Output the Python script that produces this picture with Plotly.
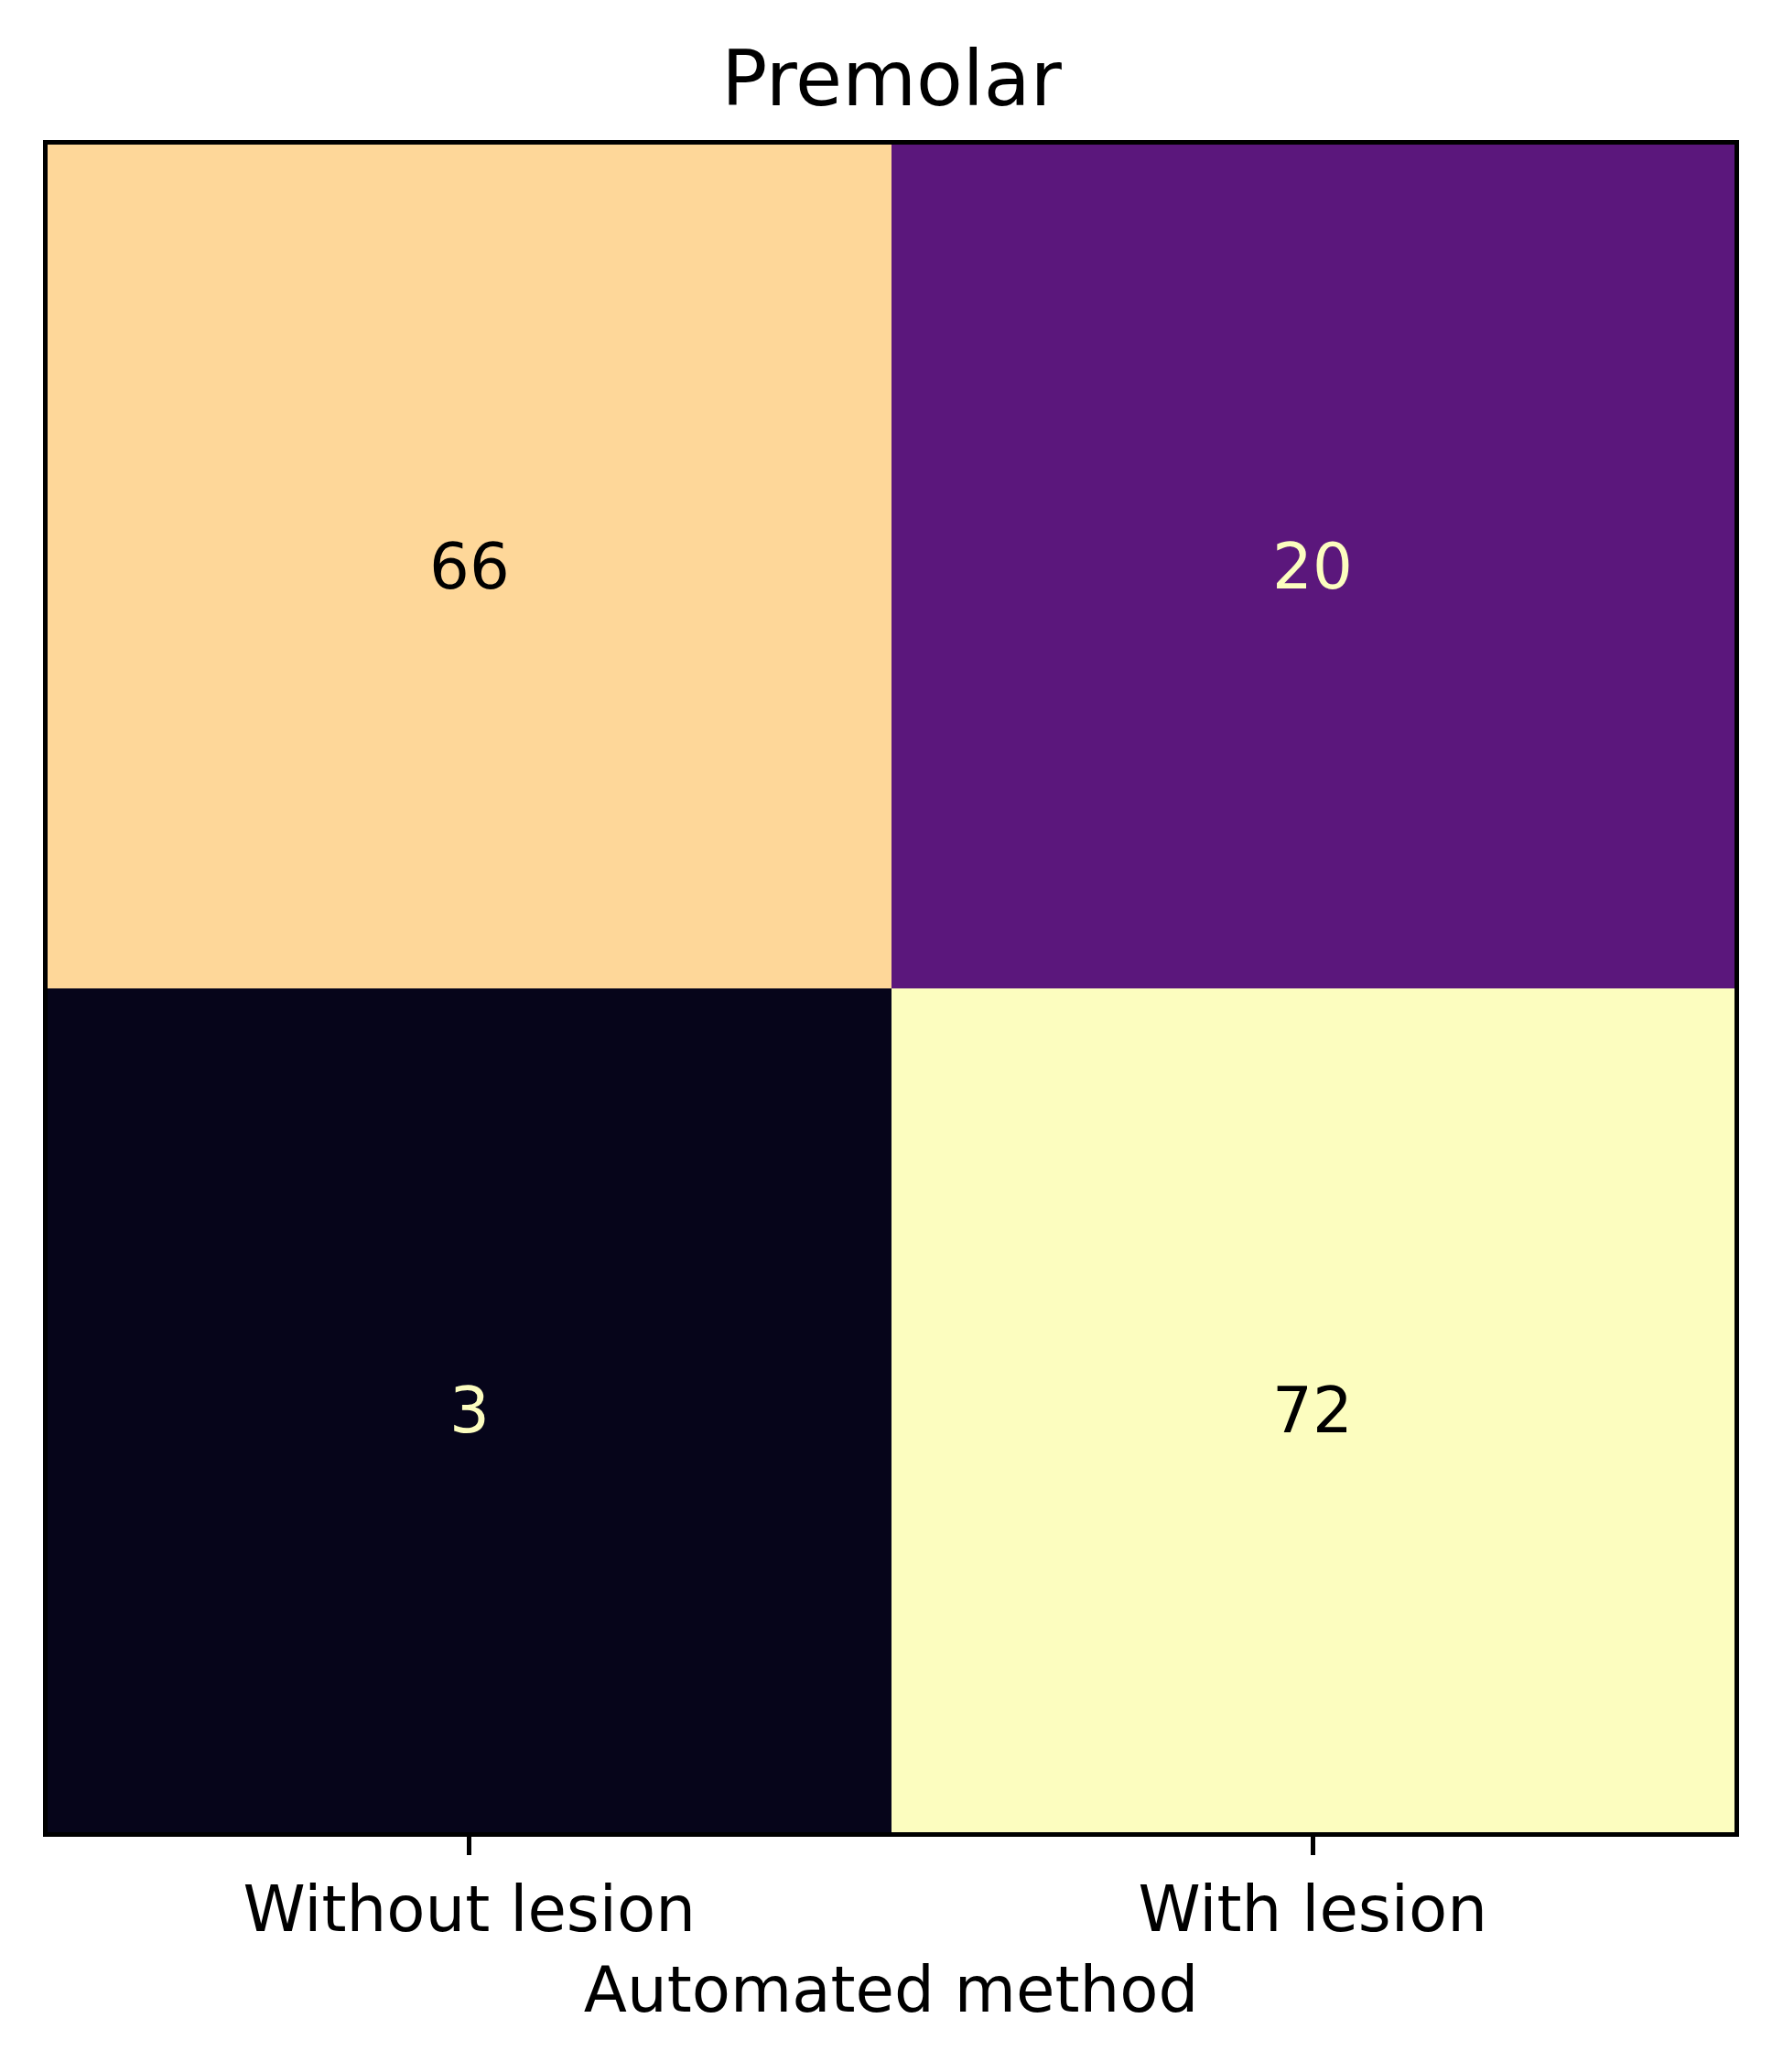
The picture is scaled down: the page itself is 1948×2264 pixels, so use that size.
import plotly.graph_objects as go

# Data
categories = ["Without lesion", "With lesion"]
true_labels = ["Without lesion", "With lesion"]
counts = [[66, 20],
          [3, 72]]
title_text = "Premolar"
x_title = "Automated method"

W, H = 1948, 2264
FONT = "DejaVu Sans"

# matplotlib-like magma colorscale (with a finer stop near the dark end)
magma = [
    [0.0, "#000004"], [0.042, "#06051a"], [0.111, "#180f3d"],
    [0.222, "#440f76"], [0.333, "#721f81"], [0.444, "#9e2f7f"],
    [0.556, "#cd4071"], [0.667, "#f1605d"], [0.778, "#fd9668"],
    [0.889, "#feca8d"], [1.0, "#fcfdbf"],
]

fig = go.Figure()
fig.add_trace(go.Heatmap(
    z=counts,
    x=[0, 1],
    y=[0, 1],
    colorscale=magma,
    zmin=0, zmax=72,
    showscale=False,
    hoverinfo="skip",
))

zmax = 72
for i, row in enumerate(counts):
    for j, v in enumerate(row):
        col = "#000000" if v > zmax / 2 else "#FCFDBF"
        fig.add_annotation(x=j, y=i, text=str(v), showarrow=False,
                           xref="x", yref="y",
                           font=dict(family=FONT, size=69, color=col))

fig.update_layout(
    width=W, height=H, autosize=False,
    margin=dict(l=52, r=53, t=158, b=262, pad=0),
    paper_bgcolor="white", plot_bgcolor="white",
    font=dict(family=FONT, color="black"),
    title=dict(text=title_text, x=0.5, xanchor="center",
               yref="container", y=1 - 86 / H, yanchor="middle",
               font=dict(family=FONT, size=83, color="black")),
)
fig.update_xaxes(
    tickmode="array", tickvals=[0, 1], ticktext=categories,
    range=[-0.5, 1.5], showgrid=False, zeroline=False,
    showline=True, linecolor="black", linewidth=5, mirror=True,
    ticks="outside", ticklen=20, tickwidth=5, tickcolor="black",
    tickfont=dict(family=FONT, size=69, color="black"),
    title=dict(text=x_title, font=dict(family=FONT, size=69, color="black"), standoff=26),
)
fig.update_yaxes(
    range=[1.5, -0.5], showgrid=False, zeroline=False,
    showticklabels=False, ticks="",
    showline=True, linecolor="black", linewidth=5, mirror=True,
)

fig.write_html("out.html")
